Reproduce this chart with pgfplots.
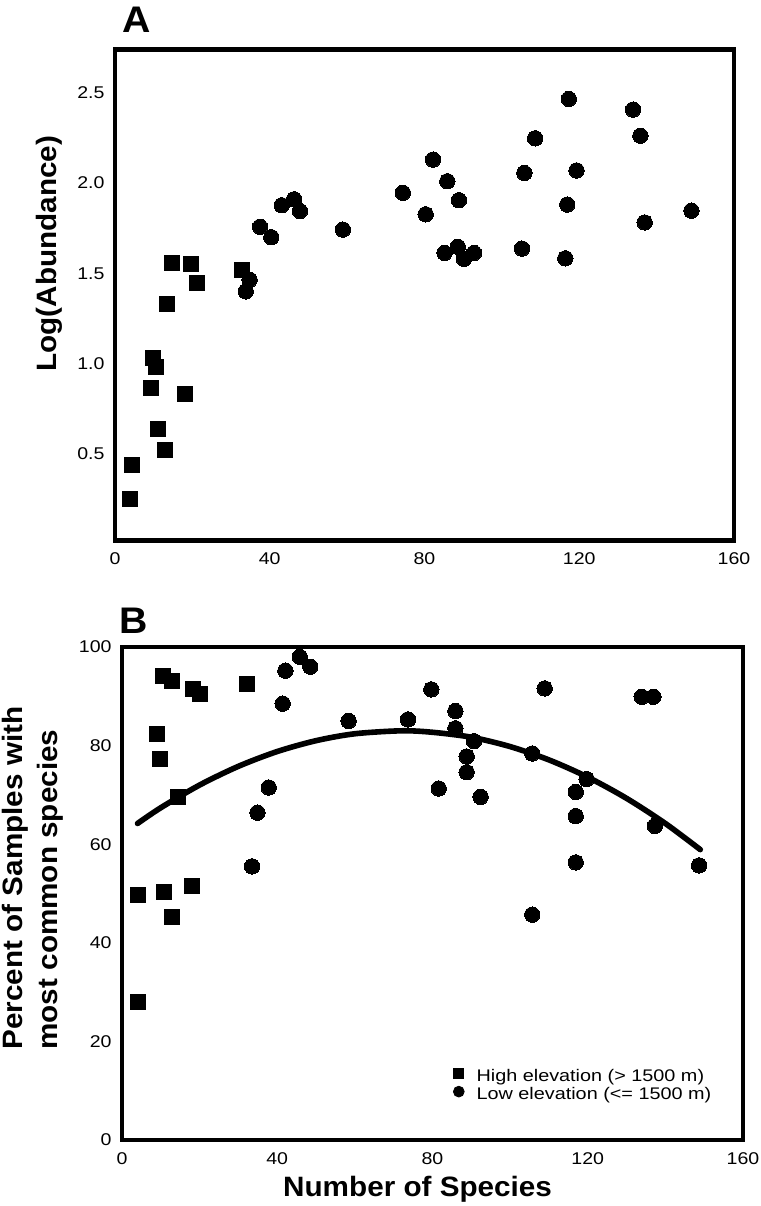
\documentclass[border=0pt]{standalone}
\usepackage{fontspec}
\setmainfont{Liberation Sans}
\newfontfamily\tickfont{Liberation Sans}[FakeStretch=1.15]
\newfontfamily\legfont{Liberation Sans}[FakeStretch=1.18]
\newfontfamily\labfont{Liberation Sans}[FakeStretch=1.06]
\usepackage{pgfplots}
\pgfplotsset{compat=1.18}

\pgfplotsset{
  myaxis/.style={
    scale only axis,
    clip=false,
    xmin=0, xmax=160,
    xtick={0,40,80,120,160},
    axis line style={line width=2.3pt},
    major tick length=0pt,
    tick label style={font=\tickfont\fontsize{8.5}{10}\selectfont},
    /pgf/number format/assume math mode=true,
    xticklabel style={yshift=-2.7pt},
    yticklabel style={xshift=-1.7pt},
    label style={font=\labfont\bfseries\fontsize{14}{17.5}\selectfont},
  },
  sq/.style={only marks, mark=square*, mark size=3.75pt, black, mark options={fill=black, draw=black, line width=0pt}},
  ci/.style={only marks, mark=*, mark size=3.85pt, black, mark options={fill=black, draw=black, line width=0pt}},
}

\begin{document}
\begin{tikzpicture}
\path[use as bounding box] (0,0) rectangle (380.5pt,603pt);

% ---------------- Panel A ----------------
\begin{axis}[myaxis,
  at={(57.5pt,332.75pt)}, anchor=south west,
  width=309.5pt, height=245.5pt,
  ymin=0.02, ymax=2.74,
  ytick={0.5,1,1.5,2,2.5},
  yticklabel style={/pgf/number format/.cd, fixed, fixed zerofill, precision=1},
  ylabel={Log(Abundance)},
  ylabel style={at={(rel axis cs:-0.1066,0.584)}, anchor=center},
]
\addplot[sq] coordinates {
 (4.0,0.25) (4.5,0.44) (9.2,0.865) (9.8,1.03) (10.7,0.98) (11.1,0.64)
 (12.9,0.52) (13.5,1.33) (14.8,1.56) (18.1,0.83) (19.7,1.55) (21.3,1.445)
 (32.7,1.52)
};
\addplot[ci] coordinates {
 (33.8,1.40) (34.8,1.464) (37.5,1.758) (40.4,1.70) (43.1,1.877) (46.3,1.91)
 (47.8,1.845) (58.9,1.742) (74.4,1.946) (80.3,1.827) (82.2,2.13) (85.2,1.613)
 (85.9,2.01) (88.6,1.647) (88.9,1.905) (90.2,1.58) (92.8,1.613) (105.2,1.637)
 (105.8,2.056) (108.6,2.248) (116.4,1.583) (116.9,1.881) (117.3,2.466)
 (119.3,2.07) (133.9,2.407) (135.8,2.262) (136.9,1.782) (149.0,1.847)
};
\node[font=\labfont\bfseries\fontsize{18.5}{20}\selectfont, anchor=base] at (rel axis cs:0.0355,1.0356) {A};
\end{axis}

% ---------------- Panel B ----------------
\begin{axis}[myaxis,
  at={(61pt,33pt)}, anchor=south west,
  width=310.5pt, height=246.5pt,
  ymin=0, ymax=100,
  ytick={0,20,40,60,80,100},
  xlabel={Number of Species},
  xlabel style={at={(rel axis cs:0.476,-0.1136)}, anchor=base},
  ylabel={Percent of Samples with\\most common species},
  ylabel style={align=left, at={(rel axis cs:-0.144,0.1826)}, anchor=west, inner sep=0pt},
  legend style={draw=none, fill=none, at={(rel axis cs:0.5327,0.152)}, anchor=north west,
    inner sep=0pt, row sep=-2.5pt, font=\legfont\fontsize{8.4}{10}\selectfont},
  legend cell align=left,
  legend image code/.code={\path (-9.3pt,0pt) (0pt,0pt); \draw[#1] plot coordinates {(-6.7pt,1.8pt)};},
]
\addplot[black, line width=2.8pt, line cap=round, smooth, forget plot] coordinates {
 (4,64.2) (10,67.4) (20,72.0) (30,75.8) (40,78.8) (50,81.0) (60,82.4)
 (72,83.0) (80,82.7) (90,81.7) (100,79.8) (110,77.1) (120,73.6) (130,69.3)
 (140,64.2) (149,58.9)
};
\addplot[sq, forget plot] coordinates {
 (4.2,28.0) (4.2,49.7) (8.9,82.4) (9.8,77.2) (10.5,94.1) (10.9,50.3)
 (12.8,93.1) (13.0,45.3) (14.5,69.6) (18.0,51.6) (18.4,91.4) (20.1,90.4)
 (32.3,92.4)
};
\addplot[ci, forget plot] coordinates {
 (33.5,55.5) (34.9,66.4) (37.8,71.5) (41.4,88.5) (42.1,95.2) (45.8,98.0)
 (48.5,96.0) (58.4,85.0) (73.7,85.3) (79.7,91.4) (81.6,71.3) (85.9,87.0)
 (85.9,83.5) (88.8,77.8) (88.8,74.6) (90.7,80.9) (92.4,69.6) (105.7,78.4)
 (105.7,45.7) (108.9,91.6) (116.9,70.6) (116.9,65.7) (116.9,56.3)
 (119.7,73.2) (133.9,89.9) (136.9,89.9) (137.3,63.7) (148.7,55.7)
};
\addlegendimage{only marks, mark=square*, mark size=2.5pt, black}
\addlegendentry{High elevation (> 1500 m)}
\addlegendimage{only marks, mark=*, mark size=2.7pt, black}
\addlegendentry{Low elevation (<= 1500 m)}
\node[font=\labfont\bfseries\fontsize{18.5}{20}\selectfont, anchor=base] at (rel axis cs:0.0185,1.028) {B};
\end{axis}
\end{tikzpicture}
\end{document}
